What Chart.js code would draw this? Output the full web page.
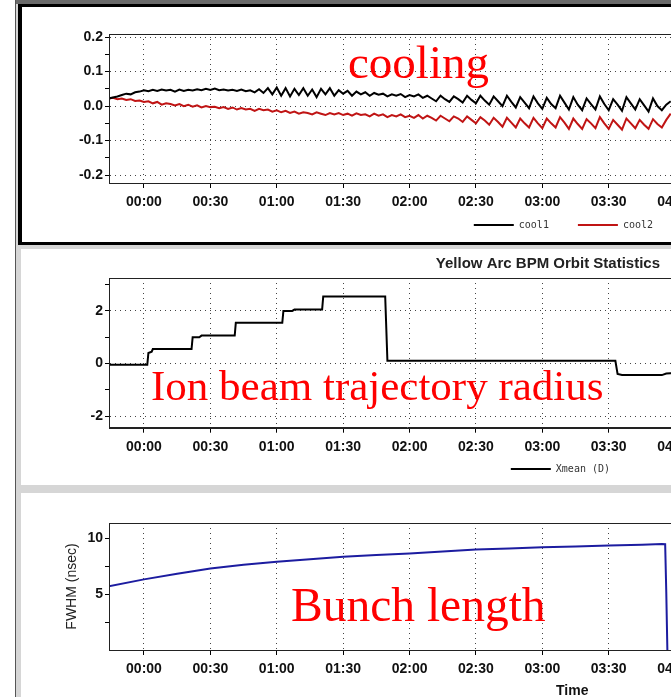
<!DOCTYPE html>
<html>
<head>
<meta charset="utf-8">
<script src="https://cdn.jsdelivr.net/npm/chart.js@4.4.1/dist/chart.umd.min.js"></script>
<style>
html,body{margin:0;padding:0;}
body{width:671px;height:697px;overflow:hidden;position:relative;background:#fff;}
.abs{position:absolute;}
#back{left:16px;top:0;width:700px;height:697px;background:#d6d6d6;}
#rail{left:15px;top:0;width:1px;height:697px;background:#555;}
#topband{left:16px;top:0;width:700px;height:4px;background:#6a6a6a;}
#p1{left:18px;top:4px;width:700px;height:235px;border:4px solid #000;border-top-width:3px;border-bottom-width:3px;border-right:none;background:#fff;}
#p2{left:21px;top:249px;width:700px;height:236px;background:#fff;}
#p3{left:21px;top:493px;width:700px;height:204px;background:#fff;}
canvas{position:absolute;left:22px;}
.note{position:absolute;color:#f00;font-family:"Liberation Serif","Times New Roman",serif;line-height:1;white-space:nowrap;}
#timeTitle{position:absolute;left:556px;top:683px;font:bold 14px "Liberation Sans",Arial,sans-serif;color:#111;line-height:1;}
</style>
</head>
<body>
<div class="abs" id="back"></div>
<div class="abs" id="rail"></div>
<div class="abs" id="topband"></div>
<div class="abs" id="p1"></div>
<div class="abs" id="p2"></div>
<div class="abs" id="p3"></div>
<canvas id="coolChart" width="683" height="258" style="top:7px"></canvas>
<canvas id="orbitChart" width="683" height="236" style="top:249px"></canvas>
<canvas id="bunchChart" width="683" height="204" style="top:493px"></canvas>
<div class="note" style="left:348px;top:39px;font-size:47px">cooling</div>
<div class="note" style="left:151px;top:364px;font-size:43px">Ion beam trajectory radius</div>
<div class="note" style="left:291px;top:582px;font-size:47.5px">Bunch length</div>
<div id="timeTitle">Time</div>
<script>
// time axis, minutes after 00:00
const timeTicks=[0,30,60,90,120,150,180,210,240]
const timeLabels=['00:00','00:30','01:00','01:30','02:00','02:30','03:00','03:30','04:00']
const tMin=-15.8
const tMax=253.5

// cooling signals, one sample every 2 min starting at -16 min
const coolStart=-16
const coolStep=2
const cool1=[
  0.022,0.025,0.028,0.032,0.036,0.034,0.040,0.042,
  0.046,0.043,0.047,0.044,0.048,0.045,0.047,0.042,
  0.048,0.044,0.047,0.045,0.049,0.046,0.050,0.047,
  0.051,0.046,0.048,0.045,0.047,0.044,0.048,0.043,
  0.046,0.040,0.049,0.038,0.052,0.034,0.054,0.030,
  0.052,0.028,0.050,0.032,0.052,0.030,0.048,0.026,
  0.050,0.034,0.052,0.030,0.046,0.036,0.044,0.030,
  0.042,0.034,0.040,0.030,0.038,0.033,0.036,0.028,
  0.034,0.030,0.035,0.026,0.032,0.028,0.034,0.024,
  0.030,0.022,0.014,0.030,0.020,0.012,0.028,0.020,
  0.010,0.030,0.018,0.008,0.030,0.016,0.004,0.028,
  0.014,0.000,0.030,0.012,-0.004,0.026,0.010,-0.006,
  0.028,0.008,-0.008,0.024,0.006,-0.006,0.030,0.010,
  -0.010,0.026,0.004,-0.012,0.022,0.006,-0.010,0.028,
  0.006,-0.012,0.020,0.004,-0.014,0.026,0.008,-0.010,
  0.020,0.002,-0.016,0.022,0.000,-0.012,0.004,0.014
]
const cool2=[
  0.022,0.024,0.020,0.022,0.018,0.020,0.015,0.016,
  0.012,0.014,0.008,0.012,0.004,0.008,0.006,0.002,
  0.006,0.000,0.004,-0.002,0.002,-0.004,0.000,-0.003,
  -0.002,-0.006,-0.003,-0.008,-0.004,-0.010,-0.006,-0.010,
  -0.008,-0.014,-0.008,-0.012,-0.010,-0.016,-0.012,-0.018,
  -0.014,-0.020,-0.016,-0.022,-0.018,-0.020,-0.024,-0.018,
  -0.022,-0.026,-0.020,-0.024,-0.020,-0.026,-0.022,-0.028,
  -0.021,-0.026,-0.024,-0.030,-0.022,-0.028,-0.024,-0.032,
  -0.026,-0.030,-0.024,-0.032,-0.028,-0.034,-0.026,-0.036,
  -0.028,-0.034,-0.042,-0.028,-0.036,-0.044,-0.030,-0.036,
  -0.046,-0.030,-0.040,-0.050,-0.032,-0.042,-0.054,-0.034,
  -0.046,-0.060,-0.034,-0.048,-0.062,-0.036,-0.050,-0.062,
  -0.034,-0.050,-0.064,-0.036,-0.050,-0.062,-0.032,-0.048,
  -0.066,-0.036,-0.052,-0.066,-0.038,-0.050,-0.064,-0.032,
  -0.050,-0.066,-0.040,-0.054,-0.068,-0.036,-0.050,-0.064,
  -0.040,-0.054,-0.066,-0.038,-0.052,-0.062,-0.040,-0.022
]
const coolTicks=[-0.2,-0.1,0,0.1,0.2]
const coolTickLabels=['-0.2','-0.1','0.0','0.1','0.2']
const coolMinor=[-0.15,-0.05,0.05,0.15]

// orbit mean position (steps)
const xmeanT=[-16,1.5,2,3.5,4,21.5,22,25,26,41,41.5,62.5,63,67,68,80.5,81,109,110,213,214,216,234,236,240]
const xmeanV=[-0.05,-0.05,0.40,0.45,0.55,0.55,1.00,1.00,1.06,1.06,1.55,1.55,2.00,2.00,2.05,2.05,2.55,2.55,0.10,0.10,-0.40,-0.44,-0.44,-0.38,-0.36]
const xmeanTicks=[-2,0,2]
const xmeanTickLabels=['-2','0','2']
const xmeanMinor=[-1,1,3]

// bunch length FWHM
const fwhmT=[-16,0,15,30,45,60,75,90,105,120,135,150,165,180,195,210,225,234,235.5,236,236.5]
const fwhmV=[5.72,6.34,6.85,7.32,7.65,7.92,8.15,8.36,8.52,8.66,8.85,9.02,9.12,9.22,9.30,9.38,9.45,9.52,9.50,5.2,0]
const fwhmTicks=[5,10]
const fwhmTickLabels=['5','10']
const fwhmMinor=[2.5,7.5]

const sans='"Liberation Sans", Arial, sans-serif'
const tickFont={family:sans,size:14,weight:'bold'}

// move legend / title boxes after layout (the plot runs past the window edge)
const boxShift={
  id:'boxShift',
  afterLayout(chart,args,opts){
    const lg=chart.legend
    if(lg && opts.legend){lg.left+=opts.legend;lg.right+=opts.legend}
    if(lg && opts.legendDy){lg.top+=opts.legendDy;lg.bottom+=opts.legendDy}
    if(opts.title && chart.titleBlock){chart.titleBlock.left+=opts.title;chart.titleBlock.right+=opts.title}
  }
}
// solid frame round the plot area
const frame={
  id:'frame',
  afterDatasetsDraw(chart){
    const a=chart.chartArea, ctx=chart.ctx
    ctx.save()
    ctx.strokeStyle='#222'
    ctx.lineWidth=1
    ctx.strokeRect(Math.round(a.left)+0.5,Math.round(a.top)+0.5,Math.round(a.right-a.left),Math.round(a.bottom-a.top))
    ctx.restore()
  }
}

function xAxis(h){
  return {
    type:'linear',min:tMin,max:tMax,
    afterBuildTicks:s=>{s.ticks=timeTicks.map(v=>({value:v}))},
    afterFit:s=>{s.height=h},
    ticks:{autoSkip:false,maxRotation:0,padding:6,color:'#111',font:tickFont,callback:(v,i)=>timeLabels[i]},
    grid:{color:'#444',tickColor:'#000',tickLength:5,tickBorderDash:[]},
    border:{color:'#222',dash:[1,4]}
  }
}
function yAxis(major,labels,minor,min,max,gridOn){
  const all=major.concat(minor).sort((a,b)=>a-b)
  return {
    min:min,max:max,
    afterBuildTicks:s=>{s.ticks=all.map(v=>({value:v}))},
    afterFit:s=>{s.width=87},
    ticks:{autoSkip:false,padding:2,color:'#111',font:tickFont,
      callback:v=>{const k=major.indexOf(v);return k<0?'':labels[k]}},
    grid:{drawOnChartArea:gridOn,tickColor:'#000',tickLength:4,tickBorderDash:[],
      color:c=>(c.tick && major.includes(c.tick.value))?'#444':'rgba(0,0,0,0)'},
    border:{color:'#222',dash:[1,4]}
  }
}
const legendLabels=(pad)=>({
  usePointStyle:true,pointStyle:'line',pointStyleWidth:40,padding:pad,color:'#333',
  font:{family:'"DejaVu Sans Mono", monospace',size:10}
})

new Chart(document.getElementById('coolChart'),{
  type:'line',
  data:{
    datasets:[
      {label:'cool1',data:cool1.map((v,i)=>({x:coolStart+i*coolStep,y:v})),borderColor:'#000',borderWidth:2},
      {label:'cool2',data:cool2.map((v,i)=>({x:coolStart+i*coolStep,y:v})),borderColor:'#c01414',borderWidth:2}
    ]
  },
  options:{
    responsive:false,animation:false,events:[],
    elements:{point:{radius:0},line:{tension:0}},
    layout:{padding:{top:27,bottom:3,left:0,right:0}},
    scales:{x:xAxis(30),y:yAxis(coolTicks,coolTickLabels,coolMinor,-0.223,0.209,true)},
    plugins:{
      legend:{position:'bottom',align:'end',labels:legendLabels(29)},
      tooltip:{enabled:false},
      boxShift:{legend:-23,legendDy:-22}
    }
  },
  plugins:[boxShift,frame]
})

new Chart(document.getElementById('orbitChart'),{
  type:'line',
  data:{
    datasets:[
      {label:'Xmean (D)',data:xmeanT.map((t,i)=>({x:t,y:xmeanV[i]})),borderColor:'#000',borderWidth:2}
    ]
  },
  options:{
    responsive:false,animation:false,events:[],
    elements:{point:{radius:0},line:{tension:0}},
    layout:{padding:{top:0,bottom:1,left:0,right:0}},
    scales:{x:xAxis(26.3),y:yAxis(xmeanTicks,xmeanTickLabels,xmeanMinor,-2.44,3.25,true)},
    plugins:{
      title:{display:true,text:'Yellow Arc BPM Orbit Statistics',align:'end',color:'#222',
        font:{family:sans,size:15,weight:'bold'},padding:{top:6,bottom:5}},
      legend:{position:'bottom',align:'end',labels:legendLabels(10)},
      tooltip:{enabled:false},
      boxShift:{legend:-85,title:-45}
    }
  },
  plugins:[boxShift,frame]
})

const fwhmY=yAxis(fwhmTicks,fwhmTickLabels,fwhmMinor,0,11.4,false)
fwhmY.title={display:true,text:'FWHM (nsec)',color:'#222',font:{family:sans,size:14},padding:{top:42,bottom:0}}
new Chart(document.getElementById('bunchChart'),{
  type:'line',
  data:{
    datasets:[
      {label:'FWHM',data:fwhmT.map((t,i)=>({x:t,y:fwhmV[i]})),borderColor:'#1c1ca0',borderWidth:2}
    ]
  },
  options:{
    responsive:false,animation:false,events:[],
    elements:{point:{radius:0},line:{tension:0}},
    layout:{padding:{top:30,bottom:0,left:0,right:0}},
    scales:{x:xAxis(47),y:fwhmY},
    plugins:{legend:{display:false},tooltip:{enabled:false}}
  },
  plugins:[frame]
})
</script>
</body>
</html>
